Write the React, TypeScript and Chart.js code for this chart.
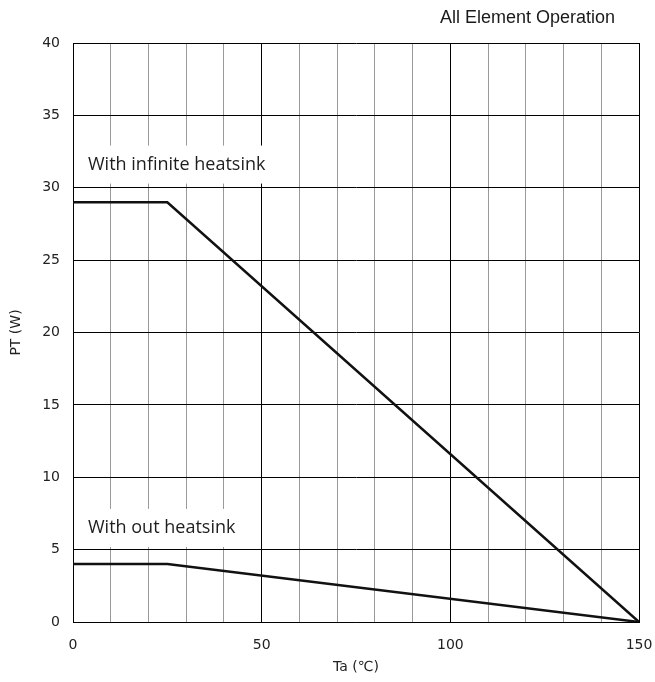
import React, { useEffect, useRef } from "react";
import { Chart, registerables } from "chart.js";

Chart.register(...registerables);

// Ambient temperature breakpoints (°C)
const ambientTemps = [0, 25, 150];
// Total power dissipation (W) with an infinite heatsink
const infiniteHeatsinkPower = [29, 29, 0];
// Total power dissipation (W) without a heatsink
const noHeatsinkPower = [4, 4, 0];

const xLabeledTicks = [0, 50, 100, 150];
const yTicks = [0, 5, 10, 15, 20, 25, 30, 35, 40];

const chartTitle = "All Element Operation";
const curveLabels = [
  { text: "With infinite heatsink", y: 31.6 },
  { text: "With out heatsink", y: 6.5 },
];

const toPoints = (ys: number[]) => ambientTemps.map((x, i) => ({ x, y: ys[i] }));

const labelFont = "18px 'Open Sans', 'Noto Sans', sans-serif";
const tickFont = { family: "'DejaVu Sans', 'Liberation Sans', sans-serif", size: 14 };

const annotationPlugin = {
  id: "curveLabels",
  beforeDatasetsDraw(chart: any) {
    const { ctx, chartArea, scales } = chart;
    ctx.save();
    ctx.font = labelFont;
    curveLabels.forEach((lbl) => {
      const cy = scales.y.getPixelForValue(lbl.y);
      const w = ctx.measureText(lbl.text).width;
      const left = chartArea.left + 1;
      ctx.fillStyle = "#ffffff";
      ctx.fillRect(left, cy - 19, w + 24, 38);
      ctx.fillStyle = "#1e1e1e";
      ctx.textBaseline = "middle";
      ctx.textAlign = "left";
      ctx.fillText(lbl.text, chartArea.left + 15, cy);
    });
    ctx.restore();
  },
  afterDraw(chart: any) {
    const { ctx } = chart;
    ctx.save();
    ctx.font = "18px 'Liberation Sans', Arial, sans-serif";
    ctx.fillStyle = "#1a1a1a";
    ctx.textAlign = "right";
    ctx.textBaseline = "middle";
    ctx.fillText(chartTitle, 615, 18);
    ctx.restore();
  },
};

export default function App() {
  const canvasRef = useRef<HTMLCanvasElement | null>(null);

  useEffect(() => {
    const canvas = canvasRef.current;
    if (!canvas) return;
    const chart = new Chart(canvas, {
      type: "line",
      data: {
        datasets: [
          {
            label: "With infinite heatsink",
            data: toPoints(infiniteHeatsinkPower),
            borderColor: "#111111",
            borderWidth: 2.5,
            pointRadius: 0,
            tension: 0,
            fill: false,
          },
          {
            label: "With out heatsink",
            data: toPoints(noHeatsinkPower),
            borderColor: "#111111",
            borderWidth: 2.5,
            pointRadius: 0,
            tension: 0,
            fill: false,
          },
        ],
      },
      options: {
        animation: false,
        responsive: false,
        devicePixelRatio: 1,
        layout: { padding: { left: 0, top: 43, right: 16, bottom: 0 } },
        plugins: {
          legend: { display: false },
          tooltip: { enabled: false },
        },
        scales: {
          x: {
            type: "linear",
            min: 0,
            max: 150,
            afterFit: (scale: any) => {
              scale.height = 60;
              scale.paddingLeft = 0;
              scale.paddingRight = 0;
            },
            afterBuildTicks: (scale: any) => {
              const t: { value: number }[] = [];
              for (let v = 0; v <= 150; v += 10) t.push({ value: v });
              scale.ticks = t;
            },
            ticks: {
              autoSkip: false,
              maxRotation: 0,
              padding: 15,
              color: "#222222",
              font: tickFont,
              callback: (v: any) => (xLabeledTicks.includes(Number(v)) ? String(v) : ""),
            },
            grid: {
              drawTicks: false,
              lineWidth: 1,
              color: (c: any) => (c.tick && c.tick.value % 50 === 0 ? "#000000" : "#9a9a9a"),
            },
            border: { display: true, color: "#000000", width: 1 },
            title: {
              display: true,
              text: "Ta (℃)",
              color: "#222222",
              font: tickFont,
              padding: { top: 0, bottom: 6 },
            },
          },
          y: {
            type: "linear",
            min: 0,
            max: 40,
            afterFit: (scale: any) => {
              scale.width = 73;
              scale.paddingTop = 0;
              scale.paddingBottom = 0;
            },
            afterBuildTicks: (scale: any) => {
              scale.ticks = yTicks.map((value) => ({ value }));
            },
            ticks: {
              padding: 13,
              color: "#222222",
              font: tickFont,
            },
            grid: {
              drawTicks: false,
              lineWidth: 1,
              color: "#000000",
            },
            border: { display: true, color: "#000000", width: 1 },
            title: {
              display: true,
              text: "PT (W)",
              color: "#222222",
              font: tickFont,
              padding: { top: 8, bottom: 0 },
            },
          },
        },
      },
      plugins: [annotationPlugin],
    });
    return () => chart.destroy();
  }, []);

  return (
    <div style={{ position: "absolute", left: 0, top: 0, width: 655, height: 682, background: "#ffffff" }}>
      <canvas ref={canvasRef} width={655} height={682} />
    </div>
  );
}
